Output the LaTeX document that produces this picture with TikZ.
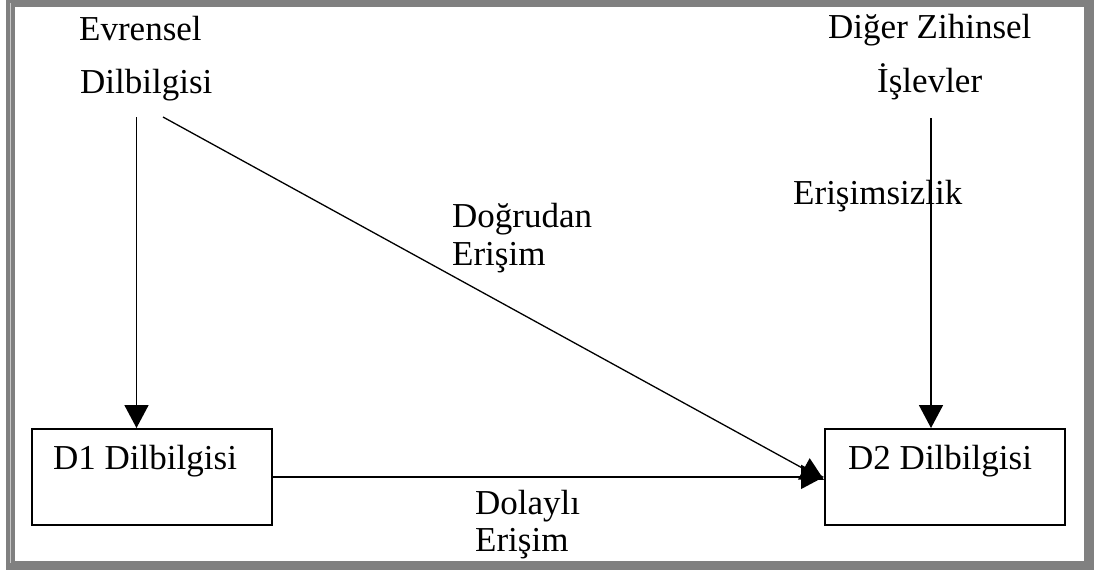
\documentclass[tikz,border=0pt]{standalone}
\usepackage{fontspec}
\setmainfont{Liberation Serif}
\usetikzlibrary{arrows.meta}
\definecolor{framegray}{HTML}{808080}
\definecolor{framelight}{HTML}{C8C8C8}
\tikzset{
  lbl/.style={anchor=base west, inner sep=0pt, font=\fontsize{35}{40}\selectfont},
  boxnode/.style={draw, line width=1.8pt, minimum width=240pt, minimum height=96pt, inner sep=0pt, anchor=north west},
  conn/.style={line width=1.7pt, -{Triangle[length=23pt,width=24pt]}},
}
\begin{document}
\begin{tikzpicture}[x=1pt,y=-1pt]
\useasboundingbox (0,0) rectangle (1094,570);
% frame
\fill[framegray] (6,0) rectangle (1094,570);
\fill[white] (15,7) rectangle (1084,561);
\fill[framelight] (10,3) rectangle (11.2,563);
% top texts
\node[lbl] (ev1) at (79,40) {Evrensel};
\node[lbl] (ev2) at (80,93) {Dilbilgisi};
\node[lbl] (dz1) at (828,38) {Diğer Zihinsel};
\node[lbl] (dz2) at (877,92) {İşlevler};
% connector start points
\coordinate (evs) at (136.5,117);
\coordinate (dgs) at (163,117);
\coordinate (dzs) at (931,118);
% boxes
\node[boxnode] (d1) at (31,428) {};
\node[boxnode] (d2) at (824,428) {};
\node[lbl] (d1t) at (53,469) {D1 Dilbilgisi};
\node[lbl] (d2t) at (848,469) {D2 Dilbilgisi};
% labels
\node[lbl] (dg1) at (452,227) {Doğrudan};
\node[lbl] (dg2) at (452,265) {Erişim};
\node[lbl] (es) at (793,204) {Erişimsizlik};
\node[lbl] (dl1) at (475,514) {Dolaylı};
\node[lbl] (dl2) at (475,551) {Erişim};
% connectors
\draw[conn] (evs) -- (evs |- d1.north);
\draw[conn] (dzs) -- (dzs |- d2.north);
\draw[conn] (d1.east) -- (d2.west);
\draw[conn, line width=1.3pt] (dgs) -- ([yshift=-3pt]d2.west);
\end{tikzpicture}
\end{document}
